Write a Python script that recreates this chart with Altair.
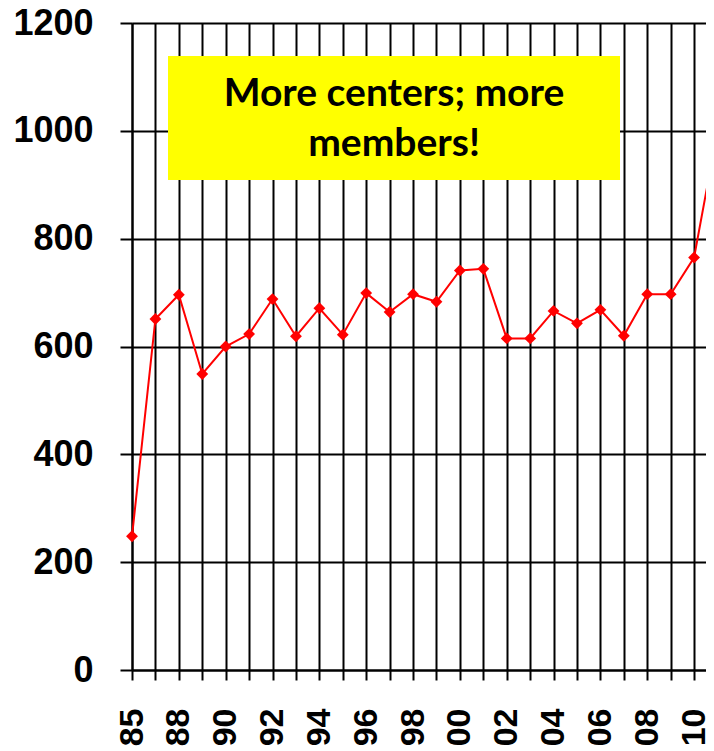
import altair as alt
import pandas as pd

years = ["85", "87", "88", "89", "90", "91", "92", "93", "94", "95", "96", "97", "98",
         "99", "00", "01", "02", "03", "04", "05", "06", "07", "08", "09", "10", "11"]
members = [248, 651, 696, 549, 600, 623, 688, 619, 671, 622, 699, 664, 697,
           683, 741, 744, 615, 615, 666, 643, 668, 620, 697, 697, 765, 1000]
shown_labels = ["85", "88", "90", "92", "94", "96", "98", "00", "02", "04", "06", "08", "10"]
y_ticks = [0, 200, 400, 600, 800, 1000, 1200]
note_lines = ["More centers; more", "members!"]

df = pd.DataFrame({"year": years, "members": members})

label_expr = "indexof([" + ",".join("'" + s + "'" for s in shown_labels) + "], datum.label) >= 0 ? datum.label : ''"

x_enc = alt.X(
    "year:O", sort=years,
    scale=alt.Scale(type="point", padding=0, range=[0, 585.5]),
    axis=alt.Axis(
        title=None, labelAngle=-90, labelExpr=label_expr,
        labelFont="Liberation Sans", labelFontWeight="bold", labelFontSize=34,
        labelColor="black", labelPadding=28, tickSize=10, tickWidth=2, tickColor="black",
        domain=True, domainColor="black", domainWidth=2,
        grid=True, gridColor="black", gridWidth=2, gridOpacity=1,
    ),
)
y_enc = alt.Y(
    "members:Q",
    scale=alt.Scale(domain=[0, 1200], nice=False),
    axis=alt.Axis(
        title=None, values=y_ticks, format="d", labelFont="Liberation Sans", labelFontWeight="bold",
        labelFontSize=36, labelColor="black", labelPadding=27, tickSize=12, tickWidth=2,
        tickColor="black", domain=True, domainColor="black", domainWidth=2,
        grid=True, gridColor="black", gridWidth=2, gridOpacity=1,
    ),
)

line = alt.Chart(df).mark_line(color="#ff0000", strokeWidth=2).encode(x=x_enc, y=y_enc)
pts = alt.Chart(df).mark_point(shape="diamond", filled=True, size=140, color="#ff0000", opacity=1).encode(
    x=alt.X("year:O", sort=years), y="members:Q")

box = alt.Chart(pd.DataFrame({"a": [0]})).mark_rect(color="#ffff00").encode(
    x=alt.value(36), x2=alt.value(488), y=alt.value(33), y2=alt.value(157))
note = alt.Chart(pd.DataFrame({"a": [0]})).mark_text(
    text=note_lines, font="Lato", fontWeight="bold", fontSize=39, lineHeight=50,
    color="black", align="center", baseline="alphabetic").encode(
    x=alt.value(262), y=alt.value(83))

chart = alt.layer(line, pts, box, note).properties(
    width=574, height=647,
    autosize=alt.AutoSizeParams(type="none"),
    padding={"left": 124, "top": 15, "right": 0, "bottom": 81},
    background="white",
).configure_view(stroke=None)

chart.save("out.html", embed_options={"renderer": "svg", "actions": False})
